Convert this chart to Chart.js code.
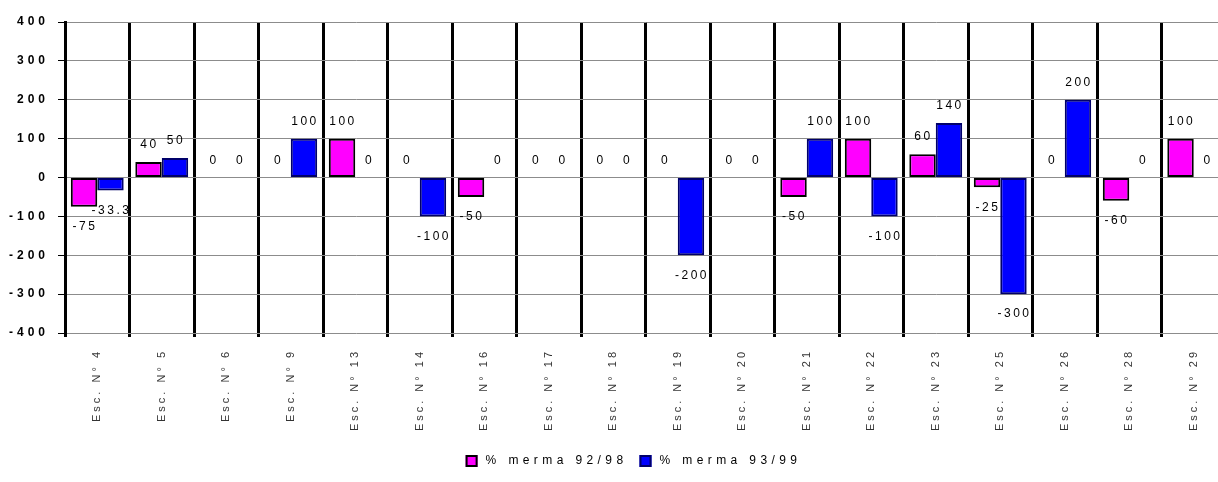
<!DOCTYPE html>
<html>
<head>
<meta charset="utf-8">
<script src="https://cdn.jsdelivr.net/npm/chart.js@4.4.1/dist/chart.umd.min.js"></script>
<style>
    html, body { margin: 0; padding: 0; background: #fff; overflow: hidden; }
    #chart { display: block; }
</style>
</head>
<body>
<canvas id="chart" width="1232" height="482"></canvas>
<script>
// ==================== Data ====================
const categories = [
    'Esc. N° 4', 'Esc. N° 5', 'Esc. N° 6', 'Esc. N° 9', 'Esc. N° 13', 'Esc. N° 14',
    'Esc. N° 16', 'Esc. N° 17', 'Esc. N° 18', 'Esc. N° 19', 'Esc. N° 20', 'Esc. N° 21',
    'Esc. N° 22', 'Esc. N° 23', 'Esc. N° 25', 'Esc. N° 26', 'Esc. N° 28', 'Esc. N° 29'
];
const merma9298 = [-75, 40, 0, 0, 100, 0, -50, 0, 0, 0, 0, -50, 100, 60, -25, 0, -60, 100];
const merma9399 = [-33.3, 50, 0, 100, 0, -100, 0, 0, 0, -200, 0, 100, -100, 140, -300, 200, 0, 0];
const seriesNames = ['% merma 92/98', '% merma 93/99'];
const yTicks = [-400, -300, -200, -100, 0, 100, 200, 300, 400];

const FONT = 'Arial, "Liberation Sans", sans-serif';

// wide letter spacing on the axis labels, like the old Excel export
const _origDrawLabels = Chart.Scale.prototype.drawLabels;
Chart.Scale.prototype.drawLabels = function (chartArea) {
    const prev = this.ctx.letterSpacing;
    this.ctx.letterSpacing = this.axis === 'y' ? '4px' : '3px';
    _origDrawLabels.call(this, chartArea);
    this.ctx.letterSpacing = prev;
};

// value labels: above positive / zero bars, below negative ones
const valueLabels = {
    id: 'valueLabels',
    afterDatasetsDraw(chart) {
        const ctx = chart.ctx;
        ctx.save();
        ctx.font = '12px ' + FONT;
        ctx.fillStyle = '#000';
        ctx.textAlign = 'center';
        ctx.textBaseline = 'middle';
        ctx.letterSpacing = '2.5px';
        chart.data.datasets.forEach((ds, i) => {
            const meta = chart.getDatasetMeta(i);
            meta.data.forEach((bar, j) => {
                const v = ds.data[j];
                const y = v < 0 ? bar.y + 20 : bar.y - 17;
                ctx.fillText(String(v), bar.x + 1, y);
            });
        });
        ctx.restore();
    }
};

// hand drawn legend (the built-in one can't do the letter spacing)
const spacedLegend = {
    id: 'spacedLegend',
    afterDraw(chart) {
        const ctx = chart.ctx;
        const ds = chart.data.datasets;
        const box = 12, gapText = 8, gapItem = 12;
        ctx.save();
        ctx.font = '12px ' + FONT;
        ctx.letterSpacing = '4.4px';
        ctx.textBaseline = 'middle';
        ctx.textAlign = 'left';
        const widths = ds.map(d => ctx.measureText(d.label).width);
        const total = widths.reduce((s, w) => s + box + gapText + w, 0) + gapItem * (ds.length - 1);
        const cx = (chart.width + chart.chartArea.left) / 2 - 15;
        let x = cx - total / 2;
        const y = 461;
        ds.forEach((d, i) => {
            ctx.fillStyle = d.backgroundColor;
            ctx.fillRect(x, y - box / 2, box, box);
            ctx.lineWidth = 2;
            ctx.strokeStyle = d.borderColor;
            ctx.strokeRect(x + 1, y - box / 2 + 1, box - 2, box - 2);
            x += box + gapText;
            ctx.fillStyle = '#000';
            ctx.fillText(d.label, x, y);
            x += widths[i] + gapItem;
        });
        ctx.restore();
    }
};

const ctx = document.getElementById('chart');
new Chart(ctx, {
    type: 'bar',
    data: {
        labels: categories,
        datasets: [{
            label: seriesNames[0],
            data: merma9298,
            backgroundColor: '#ff00ff',
            borderColor: '#000000',
            borderWidth: 2,
            borderSkipped: false
        }, {
            label: seriesNames[1],
            data: merma9399,
            backgroundColor: '#0000ff',
            borderColor: '#00006a',
            borderWidth: 2,
            borderSkipped: false
        }]
    },
    options: {
        responsive: false,
        animation: false,
        layout: { padding: { top: 22, right: 6, bottom: 0, left: 0 } },
        datasets: { bar: { categoryPercentage: 0.82, barPercentage: 1.0 } },
        scales: {
            x: {
                afterFit(scale) { scale.height = 149; },
                grid: {
                    offset: true,
                    color: '#000',
                    lineWidth: 3,
                    tickLength: 4,
                    tickColor: '#000'
                },
                border: { display: false },
                ticks: {
                    autoSkip: false,
                    minRotation: 90,
                    maxRotation: 90,
                    padding: 12,
                    color: '#333',
                    font: { family: FONT, size: 11 }
                }
            },
            y: {
                min: -400,
                max: 400,
                afterFit(scale) { scale.width = 65; },
                afterBuildTicks(scale) { scale.ticks = yTicks.map(v => ({ value: v })); },
                grid: {
                    color: '#8c8c8c',
                    lineWidth: 1,
                    tickLength: 7,
                    tickColor: '#000'
                },
                border: { display: true, color: '#000', width: 3 },
                ticks: {
                    padding: 9,
                    color: '#000',
                    font: { family: FONT, size: 12, weight: 'bold' }
                }
            }
        },
        plugins: {
            legend: { display: false },
            tooltip: { enabled: false }
        }
    },
    plugins: [valueLabels, spacedLegend]
});
</script>
</body>
</html>
